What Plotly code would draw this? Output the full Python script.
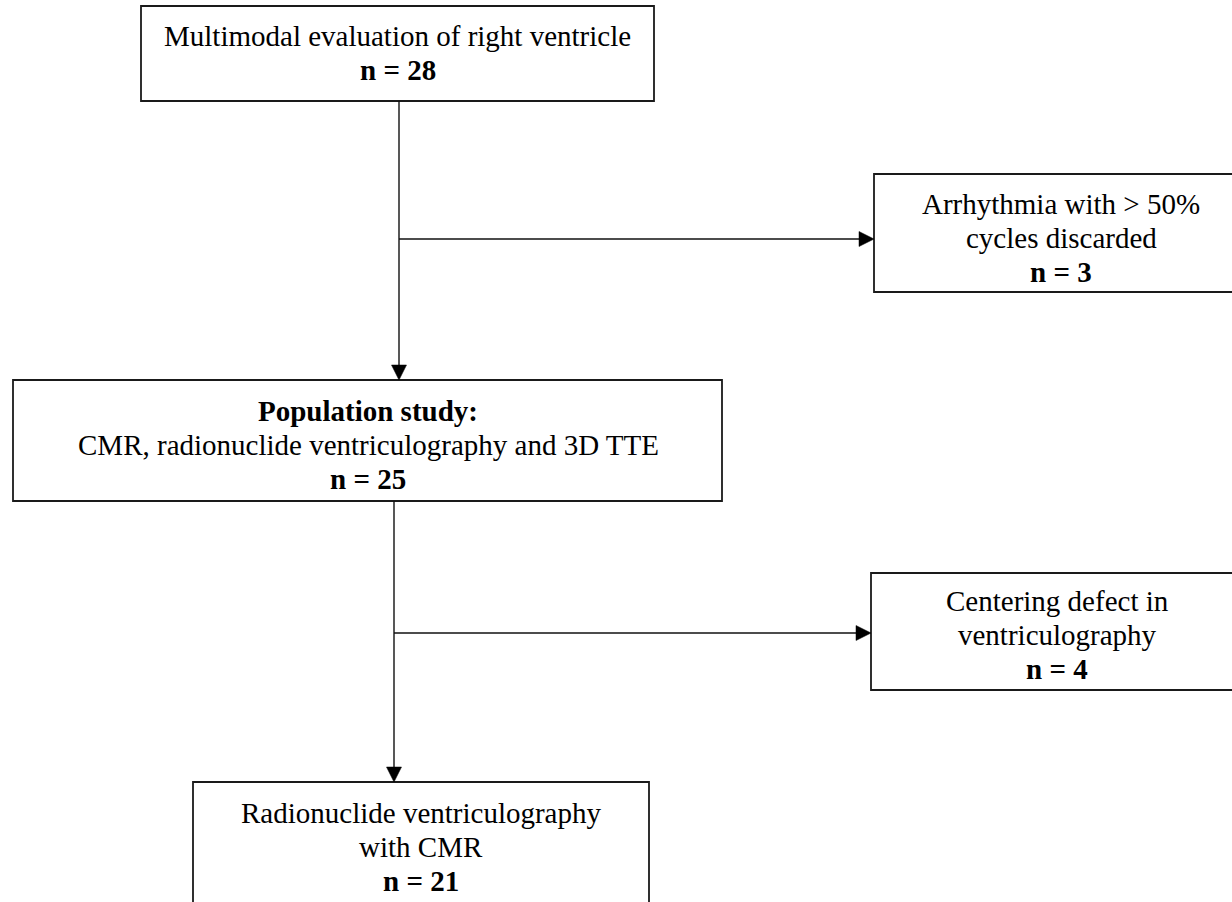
import plotly.graph_objects as go

# ---- data (flowchart content) ----
box_titles = [
    ["Multimodal evaluation of right ventricle"],
    ["Arrhythmia with > 50%", "cycles discarded"],
    ["<b>Population study:</b>", "CMR, radionuclide ventriculography and 3D TTE"],
    ["Centering defect in", "ventriculography"],
    ["Radionuclide ventriculography", "with CMR"],
]
box_counts = [28, 3, 25, 4, 21]

# ---- layout geometry (pixels, y downward) ----
W, H = 1232, 902
box_x0 = [141, 874, 13, 871, 193]
box_x1 = [654, 1245, 722, 1245, 649]
box_y0 = [6, 174, 380, 573, 782]
box_y1 = [101, 292, 501, 690, 912]
text_cx = [397.5, 1061, 368, 1057, 421]
first_line_y = [36, 204, 411, 601, 813]
line_step = 33.8

# arrows: (x_start, y_start, x_tip, y_tip)
arrows = [
    (399, 101, 399, 380),
    (399, 239, 874, 239),
    (394, 501, 394, 782),
    (394, 633, 871, 633),
]
HEAD_LEN, HEAD_W = 15, 15

FONT = "Liberation Serif, Times New Roman, serif"
FS = 29

fig = go.Figure()

shapes = []
for x0, x1, y0, y1 in zip(box_x0, box_x1, box_y0, box_y1):
    shapes.append(dict(type="rect", xref="x", yref="y", x0=x0, x1=x1, y0=y0, y1=y1,
                       line=dict(color="#1a1a1a", width=1.8), fillcolor="rgba(0,0,0,0)"))

for xs, ys, xt, yt in arrows:
    L = ((xt - xs) ** 2 + (yt - ys) ** 2) ** 0.5
    dx, dy = (xt - xs) / L, (yt - ys) / L
    px, py = -dy, dx
    bx, by = xt - HEAD_LEN * dx, yt - HEAD_LEN * dy
    shapes.append(dict(type="line", xref="x", yref="y", x0=xs, y0=ys, x1=bx + dx, y1=by + dy,
                       line=dict(color="#111111", width=1.4)))
    p1 = (bx + px * HEAD_W / 2, by + py * HEAD_W / 2)
    p2 = (bx - px * HEAD_W / 2, by - py * HEAD_W / 2)
    path = f"M {xt},{yt} L {p1[0]},{p1[1]} L {p2[0]},{p2[1]} Z"
    shapes.append(dict(type="path", xref="x", yref="y", path=path,
                       fillcolor="#000000", line=dict(color="#000000", width=0.5)))

annotations = []
for lines, n, cx, fy in zip(box_titles, box_counts, text_cx, first_line_y):
    all_lines = lines + [f"<b>n = {n}</b>"]
    for i, t in enumerate(all_lines):
        annotations.append(dict(x=cx, y=fy + i * line_step, xref="x", yref="y",
                                text=t, showarrow=False, xanchor="center", yanchor="middle",
                                font=dict(family=FONT, size=FS, color="#000000")))

fig.add_trace(go.Scatter(x=[0, W], y=[0, H], mode="markers", marker=dict(opacity=0),
                         hoverinfo="skip", showlegend=False))

fig.update_layout(
    width=W, height=H,
    margin=dict(l=0, r=0, t=0, b=0),
    paper_bgcolor="white", plot_bgcolor="white",
    xaxis=dict(range=[0, W], visible=False, fixedrange=True),
    yaxis=dict(range=[H, 0], visible=False, fixedrange=True),
    shapes=shapes, annotations=annotations,
    showlegend=False,
)

fig.write_html("out.html", config={"displayModeBar": False},
               post_script="document.body.style.margin='0px';document.body.style.overflow='hidden';")
